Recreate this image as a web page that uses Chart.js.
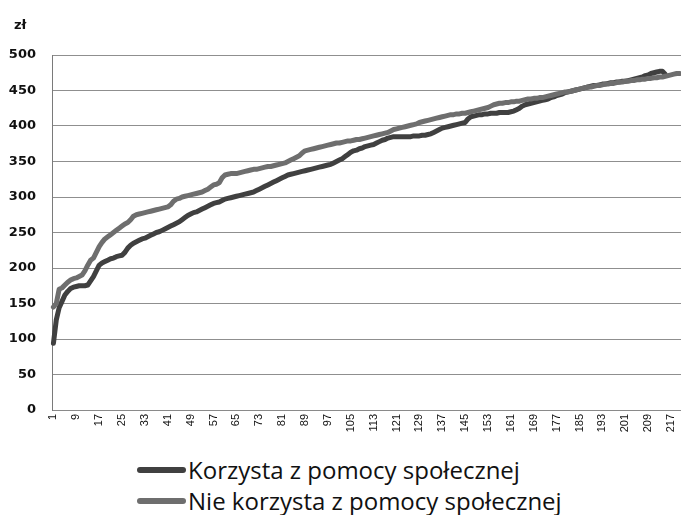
<!DOCTYPE html>
<html>
<head>
<meta charset="utf-8">
<script src="https://cdn.jsdelivr.net/npm/chart.js@4/dist/chart.umd.min.js"></script>
<style>
  html, body { margin: 0; padding: 0; background: #fff; }
  #wrap { position: relative; width: 681px; height: 515px; overflow: hidden; }
  #unit { position: absolute; left: 14px; top: 17px; font: bold 13px "DejaVu Sans", sans-serif; color: #111; }
  #legend { position: absolute; left: 137px; top: 454px; font-family: "Open Sans", sans-serif; font-size: 24px; line-height: 31px; color: #111; }
  .item { display: flex; align-items: center; height: 31px; white-space: nowrap; }
  .swatch { width: 49px; height: 6px; border-radius: 3px; margin-right: 2px; }
</style>
</head>
<body>
<div id="wrap">
  <canvas id="c" width="681" height="440"></canvas>
  <div id="unit">zł</div>
  <div id="legend"></div>
</div>
<script>
const unitLabel = "zł";
const seriesNames = ["Korzysta z pomocy społecznej", "Nie korzysta z pomocy społecznej"];
const yTicks = [0, 50, 100, 150, 200, 250, 300, 350, 400, 450, 500];

const korzysta = [
  94, 127, 144, 153, 162, 167, 171, 173, 174, 175,
  175, 175, 176, 182, 188, 196, 204, 207, 209, 211,
  213, 214, 216, 217, 218, 222, 228, 232, 235, 237,
  239, 241, 242, 244, 246, 248, 250, 251, 253, 255,
  257, 259, 261, 263, 265, 268, 271, 274, 276, 278,
  279, 281, 283, 285, 287, 289, 291, 292, 293, 295,
  297, 298, 299, 300, 301, 302, 303, 304, 305, 306,
  307, 309, 311, 313, 315, 317, 319, 321, 323, 325,
  327, 329, 331, 332, 333, 334, 335, 336, 337, 338,
  339, 340, 341, 342, 343, 344, 345, 346, 348, 350,
  352, 354, 357, 360, 363, 365, 366, 368, 369, 371,
  372, 373, 374, 376, 378, 380, 381, 383, 384, 385,
  385, 385, 385, 385, 385, 385, 386, 386, 386, 387,
  387, 388, 389, 391, 393, 395, 397, 398, 399, 400,
  401, 402, 403, 404, 405, 410, 413, 414, 415, 416,
  416, 417, 417, 418, 418, 418, 419, 419, 419, 419,
  420, 421, 423, 425, 428, 430, 431, 432, 433, 434,
  435, 436, 437, 438, 440, 441, 443, 444, 445, 447,
  448, 449, 450, 451, 452, 453, 454, 455, 456, 457,
  457, 458, 459, 459, 460, 461, 461, 462, 462, 463,
  463, 464, 465, 466, 467, 468, 469, 471, 472, 474,
  475, 476, 477, 477, 473
];

const nieKorzysta = [
  145, 150, 170, 172, 176, 180, 183, 185, 186, 188,
  190, 196, 204, 211, 214, 222, 230, 236, 241, 244,
  247, 250, 253, 256, 259, 262, 264, 268, 273, 275,
  276, 277, 278, 279, 280, 281, 282, 283, 284, 285,
  286, 289, 294, 297, 298, 300, 301, 302, 303, 304,
  305, 306, 307, 309, 311, 314, 317, 318, 320, 327,
  331, 332, 333, 333, 333, 334, 335, 336, 337, 338,
  339, 339, 340, 341, 342, 343, 343, 344, 345, 346,
  347, 348, 350, 352, 354, 356, 358, 362, 365, 366,
  367, 368, 369, 370, 371, 372, 373, 374, 375, 376,
  376, 377, 378, 379, 379, 380, 381, 381, 382, 383,
  384, 385, 386, 387, 388, 389, 390, 391, 393, 395,
  396, 397, 398, 399, 400, 401, 402, 403, 405, 406,
  407, 408, 409, 410, 411, 412, 413, 414, 415, 416,
  416, 417, 417, 418, 418, 419, 420, 421, 422, 423,
  424, 425, 426, 428, 430, 431, 432, 432, 433, 433,
  434, 434, 435, 435, 436, 437, 438, 438, 439, 439,
  440, 440, 441, 442, 443, 444, 445, 446, 447, 448,
  448, 449, 450, 451, 452, 453, 454, 455, 455, 456,
  457, 457, 458, 459, 459, 460, 460, 461, 462, 462,
  463, 463, 464, 464, 465, 465, 466, 466, 467, 467,
  468, 468, 469, 469, 470, 471, 472, 473, 474, 474
];

const categories = [];
for (let i = 1; i <= nieKorzysta.length; i++) categories.push(String(i));

const colors = ["#404040", "#6e6e6e"];

document.getElementById('unit').textContent = unitLabel;
const legend = document.getElementById('legend');
seriesNames.forEach((name, i) => {
  const row = document.createElement('div');
  row.className = 'item';
  const sw = document.createElement('span');
  sw.className = 'swatch';
  sw.style.background = colors[i];
  const tx = document.createElement('span');
  tx.textContent = name;
  row.appendChild(sw);
  row.appendChild(tx);
  legend.appendChild(row);
});

new Chart(document.getElementById('c'), {
  type: 'line',
  data: {
    labels: categories,
    datasets: [
      { label: seriesNames[0], data: korzysta, borderColor: colors[0], backgroundColor: colors[0],
        borderWidth: 5, pointRadius: 0, tension: 0, borderJoinStyle: 'round', borderCapStyle: 'round', order: 1 },
      { label: seriesNames[1], data: nieKorzysta, borderColor: colors[1], backgroundColor: colors[1],
        borderWidth: 5, pointRadius: 0, tension: 0, borderJoinStyle: 'round', borderCapStyle: 'round', order: 0 }
    ]
  },
  options: {
    responsive: false,
    animation: false,
    layout: { padding: { top: 55, left: 7, right: 0, bottom: 0 } },
    plugins: { legend: { display: false }, tooltip: { enabled: false }, title: { display: false } },
    scales: {
      x: {
        type: 'category',
        offset: true,
        grid: { display: false, drawTicks: false },
        border: { display: true, color: '#8a8a8a', width: 1 },
        ticks: {
          autoSkip: false, minRotation: 90, maxRotation: 90, padding: 4,
          color: '#111', font: { family: 'Liberation Sans', size: 11 },
          callback: function(v, i) { return (i % 8 === 0) ? categories[i] : ''; }
        },
        afterFit: function(s) { s.height = 30; s.paddingLeft = 0; s.paddingRight = 0; }
      },
      y: {
        min: 0, max: 500,
        afterBuildTicks: function(s) { s.ticks = yTicks.map(v => ({ value: v })); },
        grid: { color: '#8f8f8f', lineWidth: 1, drawTicks: false },
        border: { display: true, color: '#7a7a7a', width: 1 },
        ticks: { padding: 16, color: '#111', font: { family: 'DejaVu Sans', size: 13, weight: 'bold' } },
        afterFit: function(s) { s.width = 45; s.paddingTop = 0; s.paddingBottom = 0; }
      }
    }
  }
});
</script>
</body>
</html>
